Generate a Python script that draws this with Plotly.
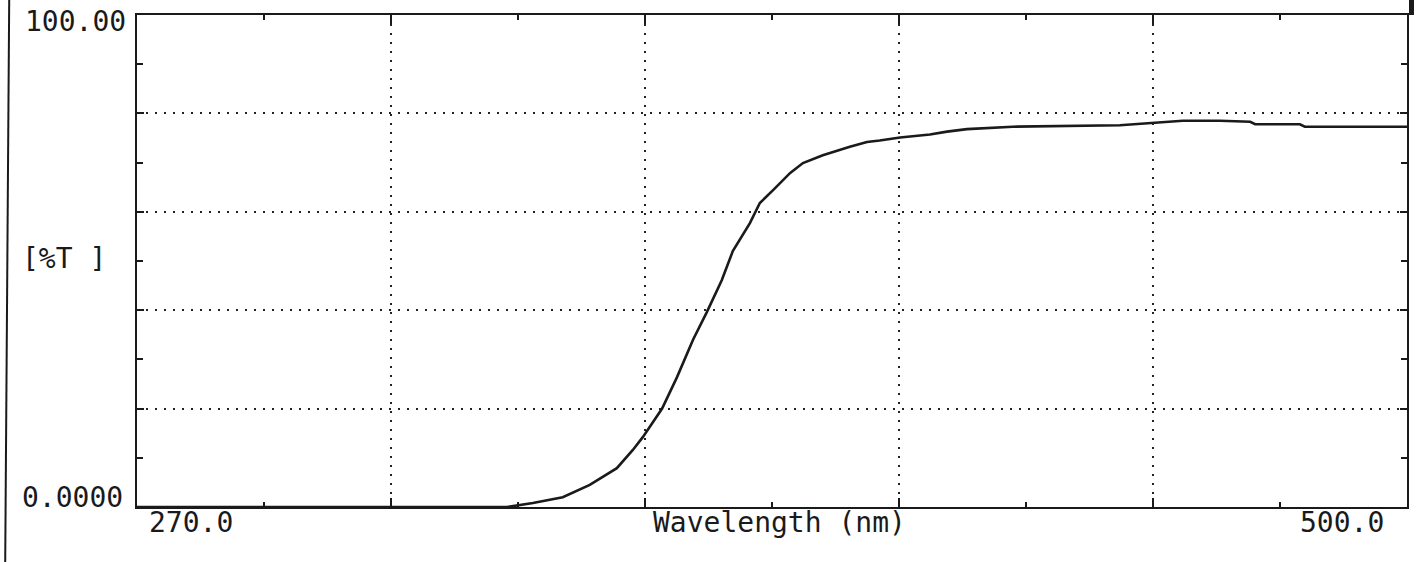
import plotly.graph_objects as go

# Data
wavelength = [270, 300, 337.0, 341.7, 347.1, 352.0, 356.9, 359.8, 361.6, 365.1, 367.8,
              370.7, 373.2, 375.9, 377.9, 381.0, 382.8, 385.2, 388.3, 390.6, 394.2,
              399.1, 402.2, 404.5, 408.2, 413.6, 416.7, 420.3, 428.6, 448.0, 454.7,
              459.4, 466.1, 471.6, 472.5, 480.6, 481.5, 500]
transmittance = [0, 0, 0, 0.8, 2.0, 4.5, 7.9, 11.6, 14.2, 20.0, 26.4,
                 34.0, 39.6, 46.1, 52.0, 57.7, 61.8, 64.4, 67.9, 69.9, 71.5,
                 73.2, 74.2, 74.5, 75.1, 75.7, 76.3, 76.8, 77.3, 77.6, 78.1,
                 78.5, 78.5, 78.3, 77.8, 77.8, 77.3, 77.3]

x_ticks = [270, 316, 362, 408, 454, 500]
y_ticks = [0, 20, 40, 60, 80, 100]
y_top_label = "100.00"
y_bottom_label = "0.0000"
y_title = "[%T ]"
x_left_label = "270.0"
x_right_label = "500.0"
x_title = "Wavelength (nm)"

FONT = "DejaVu Sans Mono"
INK = "#1a1a1a"

fig = go.Figure()
fig.add_trace(go.Scatter(x=wavelength, y=transmittance, mode="lines",
                         line=dict(color=INK, width=2.6), hoverinfo="skip",
                         showlegend=False))

axis_common = dict(
    showline=True, linecolor=INK, linewidth=2, mirror="allticks",
    ticks="inside", tickcolor=INK, tickwidth=2,
    showgrid=True, gridcolor="#222", gridwidth=2, griddash="2px,7px",
    zeroline=False, showticklabels=False,
)

fig.update_xaxes(range=[270, 500], tickvals=x_ticks, ticklen=9,
                 minor=dict(ticks="inside", ticklen=5, tickwidth=2, tickcolor=INK,
                            tick0=270, dtick=23, showgrid=False),
                 **axis_common)
fig.update_yaxes(range=[0, 100], tickvals=y_ticks, ticklen=7,
                 minor=dict(ticks="inside", ticklen=6, tickwidth=2, tickcolor=INK,
                            tick0=0, dtick=10, showgrid=False),
                 **axis_common)

tf = dict(family=FONT, size=28, color=INK)
ann = [
    dict(text=y_top_label, x=0, y=0.986, xanchor="right", yanchor="middle", xshift=-9),
    dict(text=y_bottom_label, x=0, y=0.02, xanchor="right", yanchor="middle", xshift=-12),
    dict(text=y_title, x=0, y=0.506, xanchor="right", yanchor="middle", xshift=-29),
    dict(text=x_left_label, x=0, y=-0.031, xanchor="left", yanchor="middle", xshift=10),
    dict(text=x_title, x=0.506, y=-0.031, xanchor="center", yanchor="middle"),
    dict(text=x_right_label, x=1, y=-0.031, xanchor="right", yanchor="middle", xshift=-21),
]
for a in ann:
    fig.add_annotation(xref="paper", yref="paper", showarrow=False, font=tf, **a)

# page edge line of the scanned printout
fig.add_shape(type="line", xref="paper", yref="paper",
              x0=(9 - 137) / 1272, x1=(5 - 137) / 1272, y0=(507 - 0) / 492, y1=(507 - 562) / 492,
              line=dict(color=INK, width=2))
fig.add_shape(type="rect", xref="paper", yref="paper",
              x0=(1411 - 137) / 1272, x1=(1416 - 137) / 1272, y0=(507 - 15) / 492, y1=(507 - 0) / 492,
              line=dict(width=0), fillcolor=INK)

fig.update_layout(
    width=1416, height=562,
    margin=dict(l=137, r=7, t=15, b=55),
    paper_bgcolor="white", plot_bgcolor="white",
    font=dict(family=FONT, color=INK),
)

fig.write_html("out.html", config={"displayModeBar": False},
               post_script="document.body.style.margin='0';document.body.style.overflow='hidden';")
